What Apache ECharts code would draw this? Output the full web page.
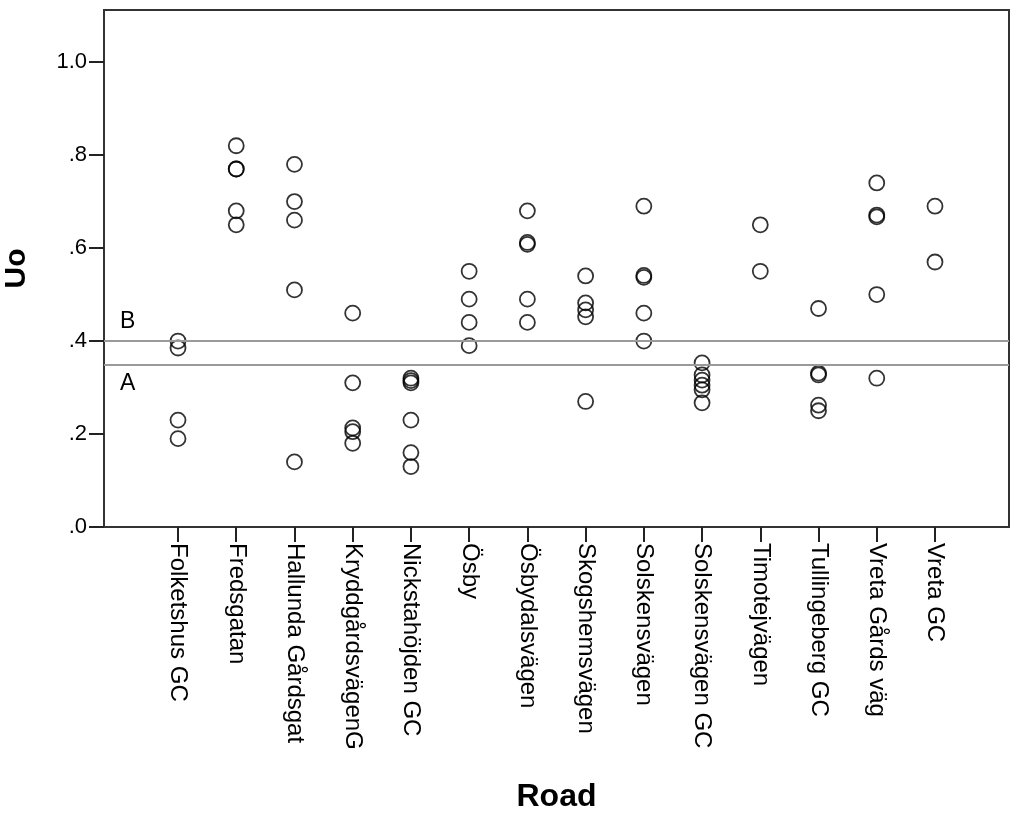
<!DOCTYPE html>
<html>
<head>
<meta charset="utf-8">
<script src="https://cdn.jsdelivr.net/npm/echarts@6/dist/echarts.min.js"></script>
<style>
html,body{margin:0;padding:0;background:#fff;}
#chart{width:1024px;height:819px;}
</style>
</head>
<body>
<div id="chart"></div>
<script>
// Categories (roads)
var roads = ['Folketshus GC','Fredsgatan','Hallunda Gårdsgat','KryddgårdsvägenG','Nickstahöjden GC','Ösby','Ösbydalsvägen','Skogshemsvägen','Solskensvägen','Solskensvägen GC','Timotejvägen','Tullingeberg GC','Vreta Gårds väg','Vreta GC'];
// Uo values per road (same order as roads)
var uoValues = [
  [0.40, 0.385, 0.23, 0.19],
  [0.82, 0.77, 0.77, 0.68, 0.65],
  [0.78, 0.70, 0.66, 0.51, 0.14],
  [0.46, 0.31, 0.213, 0.205, 0.18],
  [0.32, 0.315, 0.31, 0.23, 0.16, 0.13],
  [0.55, 0.49, 0.44, 0.39],
  [0.68, 0.612, 0.608, 0.49, 0.44],
  [0.54, 0.482, 0.467, 0.452, 0.27],
  [0.69, 0.541, 0.537, 0.46, 0.40],
  [0.353, 0.327, 0.316, 0.305, 0.295, 0.267],
  [0.65, 0.55],
  [0.47, 0.331, 0.327, 0.262, 0.25],
  [0.74, 0.671, 0.667, 0.50, 0.32],
  [0.69, 0.57]
];
// Reference lines
var refLines = [{name: 'B', value: 0.40}, {name: 'A', value: 0.35}];
var yTicks = [0, 0.2, 0.4, 0.6, 0.8, 1.0];

var points = [];
uoValues.forEach(function (vals, i) {
  vals.forEach(function (v) { points.push([i, v]); });
});
var xIdx = roads.map(function (_, i) { return i; });

var FONT = '"Liberation Sans", Arial, sans-serif';
var chart = echarts.init(document.getElementById('chart'));
chart.setOption({
  animation: false,
  backgroundColor: '#fff',
  grid: {left: 104, right: 15, top: 10, bottom: 292, show: true, borderColor: '#333', borderWidth: 2, backgroundColor: 'transparent', outerBoundsMode: 'none', containLabel: false},
  xAxis: {
    type: 'value', min: -1.271, max: 14.271,
    name: 'Road', nameLocation: 'middle', nameGap: 254,
    nameTextStyle: {fontFamily: FONT, fontSize: 32, fontWeight: 'bold', color: '#000'},
    axisLine: {show: true, onZero: false, lineStyle: {color: '#333', width: 2}},
    axisTick: {show: true, customValues: xIdx, length: 15, lineStyle: {color: '#222', width: 2}},
    axisLabel: {customValues: xIdx, rotate: -90, margin: 16, fontFamily: FONT, fontSize: 24, color: '#000',
      formatter: function (v) { return roads[Math.round(v)]; }},
    splitLine: {show: false}
  },
  yAxis: {
    type: 'value', min: 0, max: 1.112,
    name: 'Uo', nameLocation: 'middle', nameGap: 72, nameRotate: 90,
    nameTextStyle: {fontFamily: FONT, fontSize: 30, fontWeight: 'bold', color: '#000'},
    axisLine: {show: true, onZero: false, lineStyle: {color: '#333', width: 2}},
    axisTick: {show: true, customValues: yTicks, length: 15, lineStyle: {color: '#222', width: 2}},
    axisLabel: {customValues: yTicks, margin: 17, fontFamily: FONT, fontSize: 22, color: '#000',
      formatter: function (v) { return v >= 1 ? v.toFixed(1) : v.toFixed(1).replace(/^0/, ''); }},
    splitLine: {show: false}
  },
  series: [{
    type: 'scatter',
    data: points,
    symbol: 'circle',
    symbolSize: 15,
    itemStyle: {color: 'rgba(0,0,0,0)', borderColor: '#000', borderWidth: 1.8},
    markLine: {
      silent: true, symbol: 'none',
      lineStyle: {color: '#9a9a9a', width: 2, type: 'solid'},
      data: refLines.map(function (r, i) {
        return {yAxis: r.value, label: {show: true, formatter: r.name,
          position: i === 0 ? 'insideStartTop' : 'insideStartBottom',
          distance: [16, 8], fontFamily: FONT, fontSize: 23, color: '#000'}};
      })
    }
  }]
});
</script>
</body>
</html>
